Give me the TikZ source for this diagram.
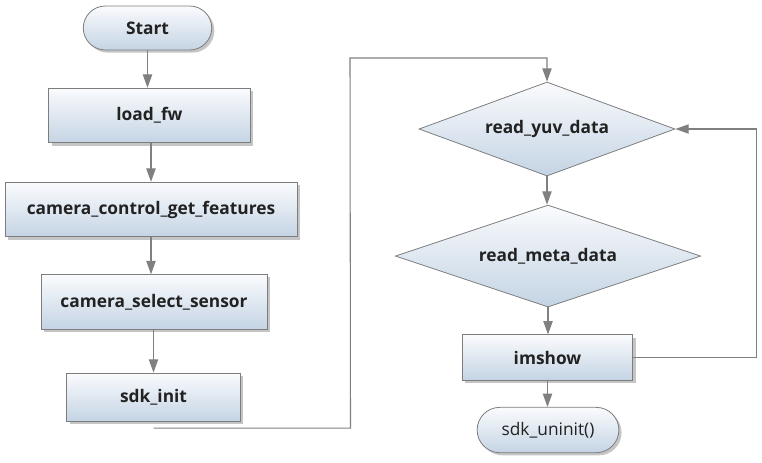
\documentclass[tikz,border=0pt]{standalone}
\usepackage{fontspec}
\setmainfont{Open Sans}
\usetikzlibrary{shapes.geometric,shapes.misc,shadows,arrows.meta}
\definecolor{boxtop}{RGB}{250,251,253}
\definecolor{boxbot}{RGB}{196,212,228}
\definecolor{edge}{RGB}{125,125,125}
\definecolor{conn}{RGB}{128,128,128}
\definecolor{txt}{RGB}{34,34,34}

\begin{document}
\begin{tikzpicture}[x=0.75pt,y=-0.75pt,
    shape base/.style={draw=edge,line width=0.6pt,top color=boxtop,bottom color=boxbot,text=txt,font=\bfseries\fontsize{13}{15}\selectfont},
    box/.style={shape base,drop shadow={shadow xshift=2pt,shadow yshift=-2pt,fill=black!45}},
    proc/.style={box,rectangle,minimum height=41pt},
    term/.style={box,rounded rectangle,minimum height=33pt},
    cond/.style={shape base,diamond,inner sep=0pt,aspect=3},
    link/.style={draw=conn,line width=0.8pt},
    arr/.style={link,-{Triangle[length=10pt,width=7pt]}}]
    \useasboundingbox (0,0) rectangle (762,462);
    \node[term,minimum width=103pt](start)at(147.5,28){Start};
    \node[proc,minimum width=151pt](fw)at(149.5,115.5){load\_fw};
    \node[proc,minimum width=219pt](feat)at(151,209.5){camera\_control\_get\_features};
    \node[proc,minimum width=169.5pt](sensor)at(154,302){camera\_select\_sensor};
    \node[proc,minimum width=130pt,minimum height=36pt](init)at(153.5,397){sdk\_init};
    \node[cond,minimum width=192pt,minimum height=70.5pt](yuv)at(547,129){read\_yuv\_data};
    \node[cond,minimum width=229pt,minimum height=76.5pt](meta)at(548,256){read\_meta\_data};
    \node[proc,minimum width=128pt,minimum height=34pt](show)at(547.5,357.5){imshow};
    \node[term,font=\fontsize{13}{15}\selectfont,minimum width=113pt,minimum height=34pt](uninit)at(548,430){sdk\_uninit()};
    \coordinate (initout) at ([yshift=-5pt]init.south);
    \draw[arr](start.south)--(start.south|-fw.north);
    \draw[arr](feat.north|-fw.south)--(feat.north);
    \draw[arr](feat.south)--(feat.south|-sensor.north);
    \draw[arr](init.north|-sensor.south)--(init.north);
    \draw[arr](initout)--++(197,0)--(350,58)-|(yuv.north);
    \draw[arr](yuv.south)--(yuv.south|-meta.north);
    \draw[arr](meta.south)--(meta.south|-show.north);
    \draw[arr](show.south)--(show.south|-uninit.north);
    \draw[arr](show.east)--++(123,0)|-(yuv.east);
\end{tikzpicture}
\end{document}
